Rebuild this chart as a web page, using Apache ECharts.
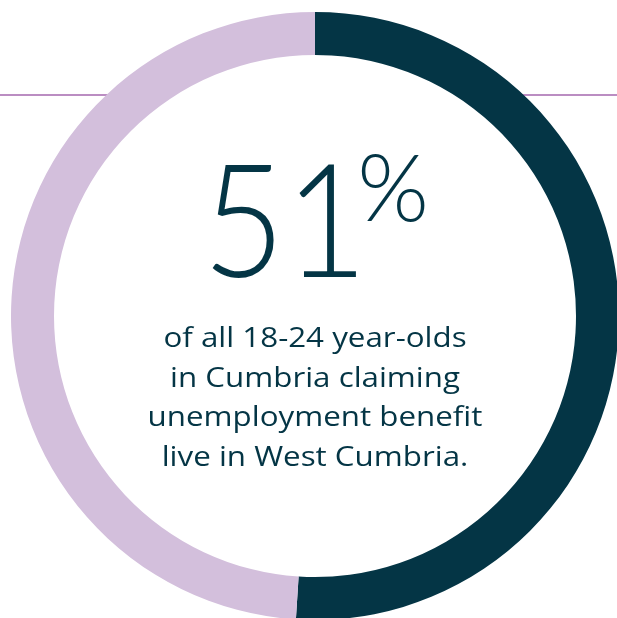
<!DOCTYPE html>
<html lang="en">
<head>
  <meta charset="UTF-8">
  <title>51% of 18-24 claimants live in West Cumbria</title>
  <script src="https://cdn.jsdelivr.net/npm/echarts@6/dist/echarts.min.js"></script>
  <style>
    html, body { margin: 0; padding: 0; background: #fff; }
    #chart { width: 617px; height: 618px; }
  </style>
</head>
<body>
<div id="chart"></div>
<script>
  // data
  const categories = ['West Cumbria', 'Rest of Cumbria'];
  const values = [51, 49];
  const colors = ['#043545', '#d3bfdc'];
  const headline = '51';
  const bodyLines = [
    'of all 18-24 year-olds',
    'in Cumbria claiming',
    'unemployment benefit',
    'live in West Cumbria.'
  ];

  const chart = echarts.init(document.getElementById('chart'));

  const cx = 315, cy = 316;
  const ink = '#043545';

  const option = {
    animation: false,
    backgroundColor: '#fff',
    graphic: [
      // thin rule behind the ring
      {
        type: 'line', z: 0,
        shape: { x1: 0, y1: 95, x2: 617, y2: 95 },
        style: { stroke: '#a467ae', lineWidth: 1.5 }
      },
      // white disc so the rule does not show inside the ring
      {
        type: 'circle', z: 1,
        shape: { cx: cx, cy: cy, r: 262 },
        style: { fill: '#fff' }
      },
      {
        type: 'text', z: 10,
        x: 285, y: 226, scaleX: 0.9,
        style: {
          text: headline,
          x: 0, y: 0,
          align: 'center', verticalAlign: 'middle',
          fontFamily: 'Lato', fontWeight: 300, fontSize: 158,
          fill: ink
        }
      },
      {
        type: 'text', z: 10,
        x: 393, y: 191,
        style: {
          text: '%',
          x: 0, y: 0,
          align: 'center', verticalAlign: 'middle',
          fontFamily: 'Lato', fontWeight: 300, fontSize: 92,
          fill: ink
        }
      },
      {
        type: 'text', z: 10,
        x: cx, y: 399, scaleX: 1.16,
        style: {
          text: bodyLines.join('\n'),
          x: 0, y: 0,
          align: 'center', verticalAlign: 'middle',
          lineHeight: 39.5,
          fontFamily: 'Open Sans', fontSize: 27,
          fill: ink
        }
      }
    ],
    series: [
      {
        type: 'pie',
        z: 2,
        center: [cx, cy],
        radius: [261, 304],
        startAngle: 90,
        clockwise: true,
        label: { show: false },
        labelLine: { show: false },
        emphasis: { disabled: true },
        itemStyle: { borderWidth: 0 },
        data: categories.map((name, i) => ({
          name: name,
          value: values[i],
          itemStyle: { color: colors[i] }
        }))
      }
    ]
  };

  chart.setOption(option);
</script>
</body>
</html>
